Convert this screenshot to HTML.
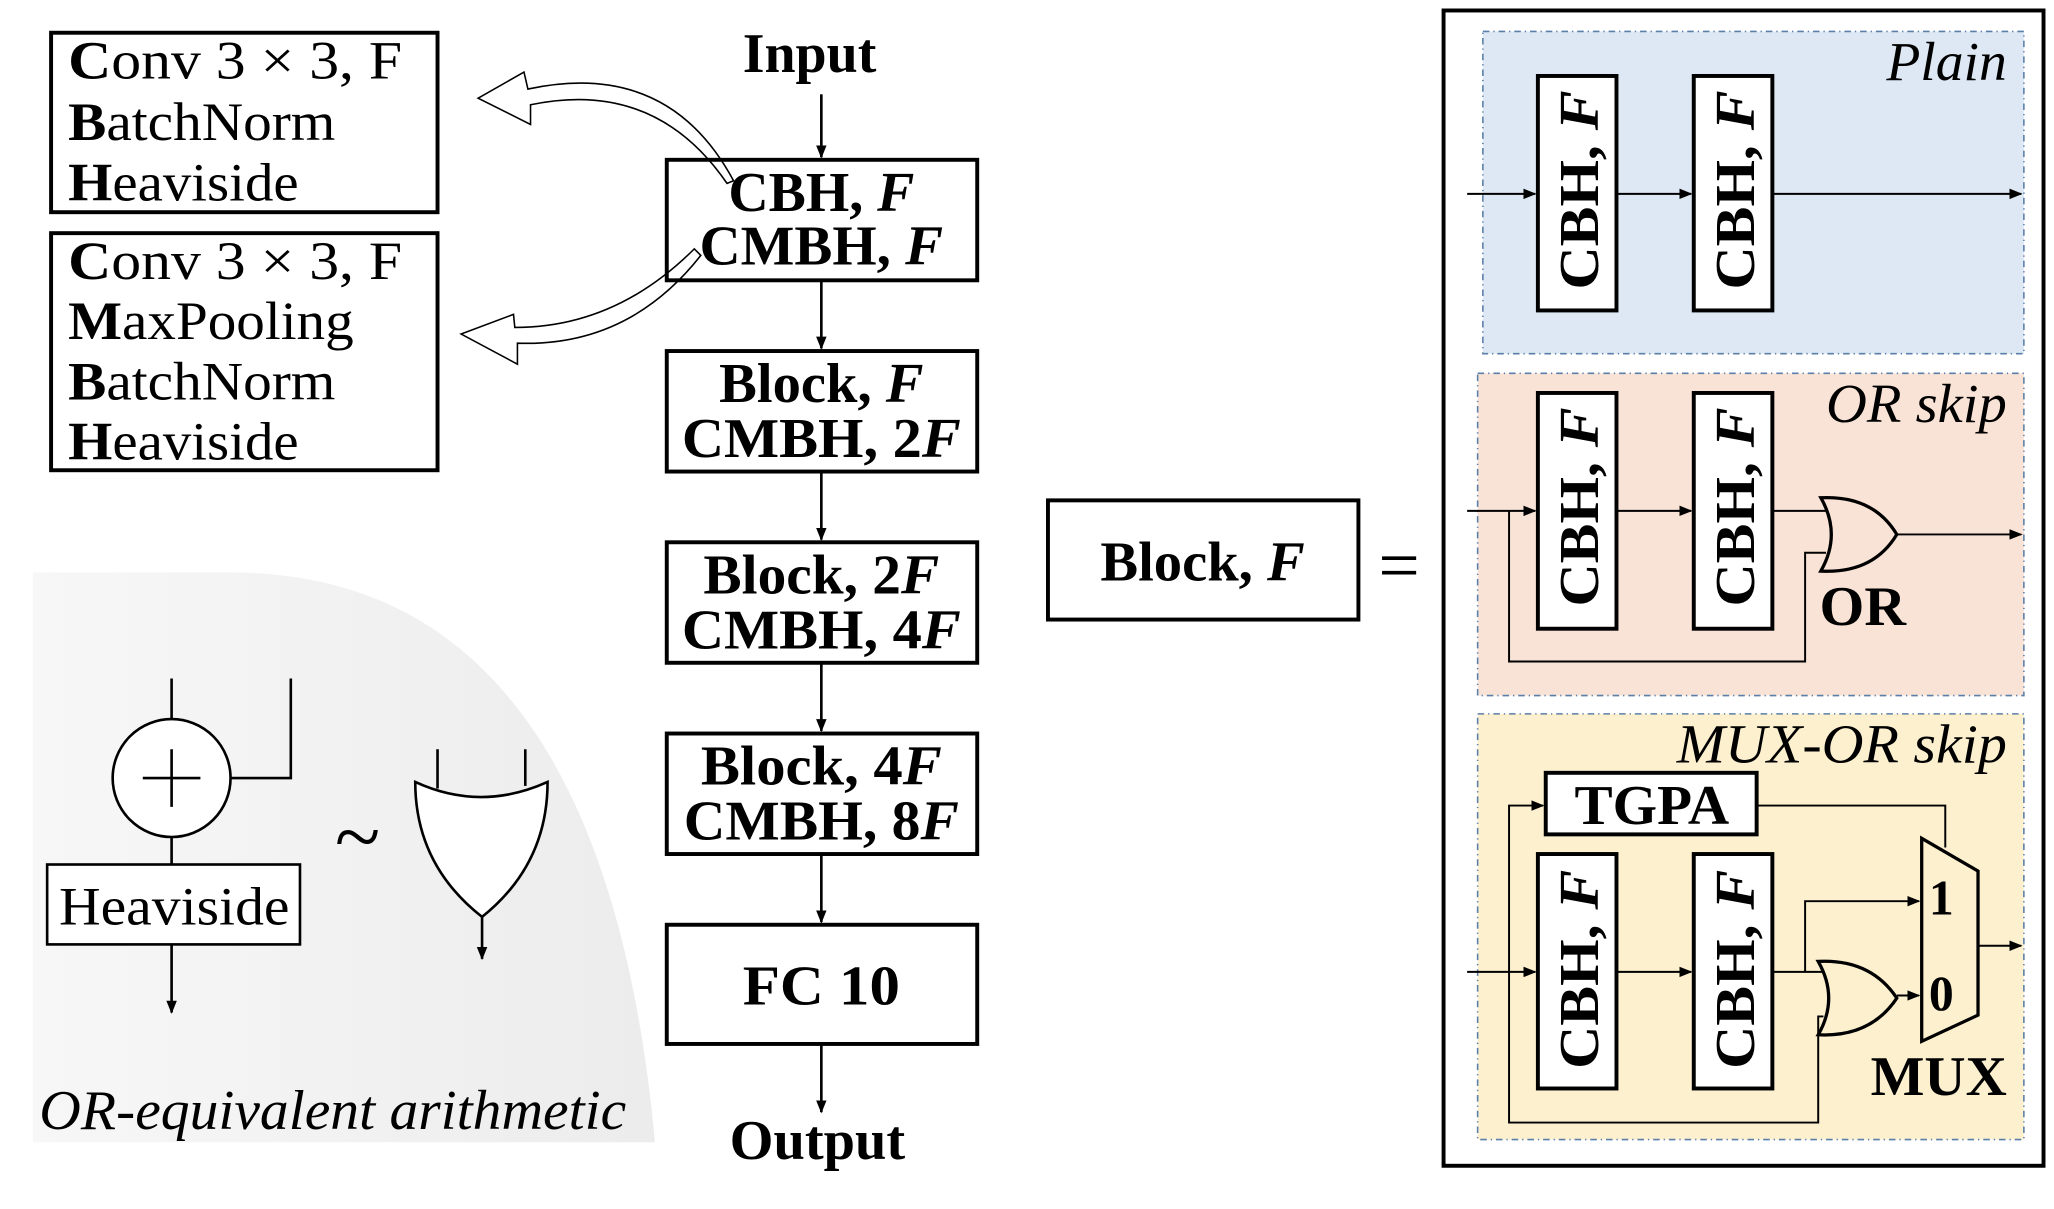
<!DOCTYPE html>
<html><head><meta charset="utf-8"><style>html,body{margin:0;padding:0;background:#fff}svg{display:block}text{font-family:"Liberation Serif",serif}</style></head><body>
<svg width="2054" height="1209" viewBox="0 0 1568 923" preserveAspectRatio="none" xmlns="http://www.w3.org/2000/svg">
<defs>
<marker id="a" markerWidth="10" markerHeight="10" refX="9" refY="5" orient="auto" markerUnits="userSpaceOnUse"><path d="M0,1 L10,5 L0,9 z" fill="#000"/></marker>
<linearGradient id="g" x1="0" y1="0" x2="1" y2="0"><stop offset="0" stop-color="#f7f7f7"/><stop offset="1" stop-color="#ececec"/></linearGradient>
</defs>
<path d="M25,437 L180,437 Q460,440 500,872 L25,872 Z" fill="url(#g)"/>
<g fill="none" stroke="#000" stroke-width="3"><rect x="39" y="25" width="295" height="137"/><rect x="39" y="178" width="295" height="181"/></g>
<g font-size="41">
<text x="52" y="60" textLength="255" lengthAdjust="spacingAndGlyphs"><tspan font-weight="bold">C</tspan>onv 3 × 3, F</text>
<text x="52" y="107" textLength="204" lengthAdjust="spacingAndGlyphs"><tspan font-weight="bold">B</tspan>atchNorm</text>
<text x="52" y="153" textLength="176" lengthAdjust="spacingAndGlyphs"><tspan font-weight="bold">H</tspan>eaviside</text>
<text x="52" y="213" textLength="255" lengthAdjust="spacingAndGlyphs"><tspan font-weight="bold">C</tspan>onv 3 × 3, F</text>
<text x="52" y="259" textLength="218" lengthAdjust="spacingAndGlyphs"><tspan font-weight="bold">M</tspan>axPooling</text>
<text x="52" y="305" textLength="204" lengthAdjust="spacingAndGlyphs"><tspan font-weight="bold">B</tspan>atchNorm</text>
<text x="52" y="351" textLength="176" lengthAdjust="spacingAndGlyphs"><tspan font-weight="bold">H</tspan>eaviside</text>
</g>
<g fill="#fff" stroke="#000" stroke-width="1.2">
<path d="M555,140 Q500,60 405,80 L405,95 L365,75 L400,55 L403,68 Q510,45 560,138 Z"/>
<path d="M535,195 Q480,265 395,262 L395,278 L352,255 L392,240 L393,250 Q470,250 530,190 Z"/>
</g>
<g font-size="43" font-weight="bold" text-anchor="middle">
<text x="618" y="55" textLength="102" lengthAdjust="spacingAndGlyphs">Input</text>
<text x="624" y="885" textLength="134" lengthAdjust="spacingAndGlyphs">Output</text>
</g>
<g fill="none" stroke="#000" stroke-width="3">
<rect x="509" y="122" width="237" height="92"/><rect x="509" y="268" width="237" height="92"/><rect x="509" y="414" width="237" height="92"/><rect x="509" y="560" width="237" height="92"/><rect x="509" y="706" width="237" height="91"/>
<rect x="800" y="382" width="237" height="91"/>
</g>
<g stroke="#000" stroke-width="2" marker-end="url(#a)">
<line x1="627" y1="72" x2="627" y2="120"/><line x1="627" y1="214" x2="627" y2="266"/><line x1="627" y1="360" x2="627" y2="412"/><line x1="627" y1="506" x2="627" y2="558"/><line x1="627" y1="652" x2="627" y2="704"/><line x1="627" y1="797" x2="627" y2="849"/>
</g>
<g font-size="43" font-weight="bold" text-anchor="middle">
<text x="627" y="161" textLength="142" lengthAdjust="spacingAndGlyphs">CBH, <tspan font-style="italic">F</tspan></text>
<text x="627" y="202" textLength="186" lengthAdjust="spacingAndGlyphs">CMBH, <tspan font-style="italic">F</tspan></text>
<text x="627" y="307" textLength="156" lengthAdjust="spacingAndGlyphs">Block, <tspan font-style="italic">F</tspan></text>
<text x="627" y="349" textLength="213" lengthAdjust="spacingAndGlyphs">CMBH, 2<tspan font-style="italic">F</tspan></text>
<text x="627" y="453" textLength="180" lengthAdjust="spacingAndGlyphs">Block, 2<tspan font-style="italic">F</tspan></text>
<text x="627" y="495" textLength="213" lengthAdjust="spacingAndGlyphs">CMBH, 4<tspan font-style="italic">F</tspan></text>
<text x="627" y="599" textLength="184" lengthAdjust="spacingAndGlyphs">Block, 4<tspan font-style="italic">F</tspan></text>
<text x="627" y="641" textLength="210" lengthAdjust="spacingAndGlyphs">CMBH, 8<tspan font-style="italic">F</tspan></text>
<text x="627" y="767" textLength="120" lengthAdjust="spacingAndGlyphs">FC 10</text>
<text x="918" y="443" textLength="156" lengthAdjust="spacingAndGlyphs">Block, <tspan font-style="italic">F</tspan></text>
</g>
<text x="1068" y="450" font-size="56" text-anchor="middle">=</text>
<rect x="1102" y="8" width="458" height="882" fill="none" stroke="#000" stroke-width="3"/>
<g stroke="#5b7fa8" stroke-width="1.2" stroke-dasharray="5,3,1,3">
<rect x="1132" y="24" width="413" height="246" fill="#dde8f4"/>
<rect x="1128" y="285" width="417" height="246" fill="#f9e3d6"/>
<rect x="1128" y="545" width="417" height="325" fill="#fcf0cf"/>
</g>
<g font-size="42" font-style="italic" text-anchor="end">
<text x="1532" y="61" textLength="92" lengthAdjust="spacingAndGlyphs">Plain</text><text x="1532" y="322" textLength="138" lengthAdjust="spacingAndGlyphs">OR skip</text><text x="1532" y="582" textLength="252" lengthAdjust="spacingAndGlyphs">MUX-OR skip</text>
</g>
<g fill="#fff" stroke="#000" stroke-width="3">
<rect x="1174" y="58" width="60" height="179"/><rect x="1293" y="58" width="60" height="179"/>
<rect x="1174" y="300" width="60" height="180"/><rect x="1293" y="300" width="60" height="180"/>
<rect x="1174" y="652" width="60" height="179"/><rect x="1293" y="652" width="60" height="179"/>
<rect x="1180" y="590" width="161" height="47"/>
</g>
<g font-size="43" font-weight="bold" text-anchor="middle">
<text transform="translate(1220,145) rotate(-90)" textLength="152" lengthAdjust="spacingAndGlyphs">CBH, <tspan font-style="italic">F</tspan></text>
<text transform="translate(1339,145) rotate(-90)" textLength="152" lengthAdjust="spacingAndGlyphs">CBH, <tspan font-style="italic">F</tspan></text>
<text transform="translate(1220,387) rotate(-90)" textLength="152" lengthAdjust="spacingAndGlyphs">CBH, <tspan font-style="italic">F</tspan></text>
<text transform="translate(1339,387) rotate(-90)" textLength="152" lengthAdjust="spacingAndGlyphs">CBH, <tspan font-style="italic">F</tspan></text>
<text transform="translate(1220,740) rotate(-90)" textLength="152" lengthAdjust="spacingAndGlyphs">CBH, <tspan font-style="italic">F</tspan></text>
<text transform="translate(1339,740) rotate(-90)" textLength="152" lengthAdjust="spacingAndGlyphs">CBH, <tspan font-style="italic">F</tspan></text>
<text x="1261" y="629" textLength="118" lengthAdjust="spacingAndGlyphs">TGPA</text>
<text x="1422" y="477" textLength="66" lengthAdjust="spacingAndGlyphs">OR</text>
<text x="1480" y="836" textLength="104" lengthAdjust="spacingAndGlyphs">MUX</text>
<text x="1482" y="698" font-size="38">1</text>
<text x="1482" y="771" font-size="38">0</text>
</g>
<g stroke="#000" stroke-width="1.5" fill="none">
<line x1="1120" y1="148" x2="1172" y2="148" marker-end="url(#a)"/>
<line x1="1234" y1="148" x2="1291" y2="148" marker-end="url(#a)"/>
<line x1="1353" y1="148" x2="1543" y2="148" marker-end="url(#a)"/>
<line x1="1120" y1="390" x2="1172" y2="390" marker-end="url(#a)"/>
<line x1="1234" y1="390" x2="1291" y2="390" marker-end="url(#a)"/>
<line x1="1353" y1="390" x2="1394" y2="390"/>
<polyline points="1152,390 1152,505 1378,505 1378,422 1394,422"/>
<line x1="1448" y1="408" x2="1543" y2="408" marker-end="url(#a)"/>
<path d="M1390,380 Q1430,378 1448,408 Q1430,438 1390,436 Q1406,408 1390,380 Z" stroke-width="2.5"/>
<line x1="1120" y1="742" x2="1172" y2="742" marker-end="url(#a)"/>
<line x1="1234" y1="742" x2="1291" y2="742" marker-end="url(#a)"/>
<line x1="1353" y1="742" x2="1392" y2="742"/>
<polyline points="1152,742 1152,615 1178,615" marker-end="url(#a)"/>
<polyline points="1152,742 1152,857 1388,857 1388,776 1392,776"/>
<polyline points="1341,615 1485,615 1485,647"/>
<polyline points="1378,742 1378,688 1465,688" marker-end="url(#a)"/>
<line x1="1448" y1="760" x2="1465" y2="760" marker-end="url(#a)"/>
<line x1="1510" y1="722" x2="1543" y2="722" marker-end="url(#a)"/>
<path d="M1388,734 Q1428,732 1448,762 Q1428,792 1388,790 Q1404,762 1388,734 Z" stroke-width="2.5"/>
<path d="M1467,640 L1510,665 L1510,775 L1467,795 Z" stroke-width="2.5"/>
</g>
<g stroke="#000" stroke-width="2" fill="none">
<line x1="131" y1="518" x2="131" y2="549"/>
<circle cx="131" cy="594" r="45" fill="#fff"/>
<line x1="131" y1="572" x2="131" y2="616"/><line x1="109" y1="594" x2="153" y2="594"/>
<polyline points="176,594 222,594 222,518"/>
<line x1="131" y1="639" x2="131" y2="660"/>
<rect x="36" y="660" width="193" height="61" fill="#fff"/>
<line x1="131" y1="721" x2="131" y2="773" marker-end="url(#a)"/>
<line x1="334" y1="572" x2="334" y2="602"/><line x1="401" y1="572" x2="401" y2="600"/>
<path d="M317,597 Q367,620 418,597 Q418,660 368,700 Q317,660 317,597 Z" fill="#fff"/>
<line x1="368" y1="700" x2="368" y2="732" marker-end="url(#a)"/>
</g>
<text x="133" y="706" font-size="41" text-anchor="middle" textLength="176" lengthAdjust="spacingAndGlyphs">Heaviside</text>
<text x="273" y="660" font-size="64" text-anchor="middle">~</text>
<text x="254" y="862" font-size="43" font-style="italic" text-anchor="middle" textLength="448" lengthAdjust="spacingAndGlyphs">OR-equivalent arithmetic</text>
</svg>
</body></html>
